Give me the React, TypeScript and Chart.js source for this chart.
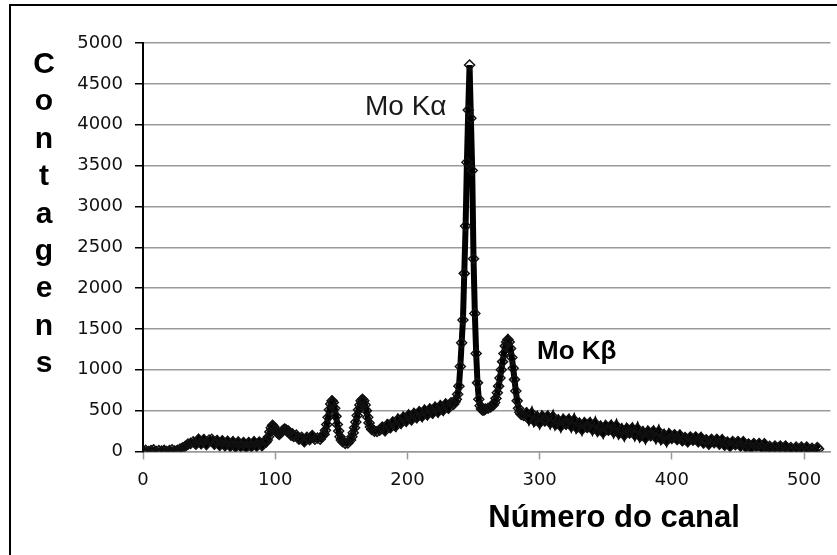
import React, { useEffect, useRef } from "react";
import { Chart, registerables } from "chart.js";

Chart.register(...registerables);

// Channel numbers (x) and counts (y)
const channels: number[] = [
  0, 2, 4, 6, 8, 10, 12, 14, 16, 18, 20, 22, 24, 26, 28, 30, 32, 34, 36, 38, 40, 42, 44, 46, 48, 50, 52, 54, 56, 58, 60, 62, 64, 66, 68, 70,
  72, 74, 76, 78, 80, 82, 84, 86, 88, 90, 92, 93,
  94, 95, 96, 97, 98, 99, 100, 101, 102, 103, 104, 105, 106, 107, 108, 109, 110, 112, 113, 114, 116, 118, 120, 122, 124, 126, 128, 130, 132, 134, 136,
  137, 138, 139, 140, 141, 142, 143, 144, 145, 146, 147, 148, 149, 150, 151, 153, 155, 157, 158, 159, 160, 161, 162, 163, 164, 165, 166, 167, 168,
  169, 170, 171, 172, 173, 175, 177, 179, 181, 183, 185, 187, 189, 191, 193, 195, 197, 199, 201, 203, 205, 207, 209, 211, 213, 215, 217, 219,
  221, 223, 225, 227, 229, 231, 233, 235, 236,
  237, 238, 239, 240, 241, 242, 243, 244, 245, 246, 247, 248, 249, 250, 251, 252, 253, 254, 255, 256, 257, 258, 259, 261, 263, 265, 266,
  267, 268, 269, 270, 271, 272, 273, 274, 275, 276, 277, 278, 279, 280, 281, 282, 283, 284, 285, 286, 288,
  290, 292, 294, 296, 298, 300, 302, 304, 306, 308, 310, 312, 314, 316, 318, 320, 322, 324, 326, 328, 330, 332, 334, 336, 338, 340,
  342, 344, 346, 348, 350, 352, 354, 356, 358, 360, 362, 364, 366, 368, 370, 372, 374, 376, 378, 380, 382, 384, 386, 388, 390,
  392, 394, 396, 398, 400, 402, 404, 406, 408, 410, 412, 414, 416, 418, 420, 422, 424, 426, 428, 430, 432, 434, 436, 438, 440,
  442, 444, 446, 448, 450, 452, 454, 456, 458, 460, 462, 464, 466, 468, 470, 472, 474, 476, 478, 480, 482, 484, 486, 488, 490,
  492, 494, 496, 498, 500, 502, 504, 506, 508, 510, 511,
];

const counts: number[] = [
  5, 15, 0, 10, 20, 0, 10, 5, 15, 0, 10, 20, 5, 15, 30, 45, 65, 90, 100, 120, 90, 150, 95, 145, 85, 140, 150, 90, 135, 75, 130, 70, 125, 65, 120, 55,
  115, 60, 110, 50, 110, 60, 120, 65, 115, 70, 125, 115,
  140, 180, 240, 290, 320, 300, 265, 240, 225, 210, 225, 245, 260, 275, 270, 250, 250, 200, 215, 185, 200, 150, 175, 120, 175, 145, 195, 150, 165, 150, 200,
  210, 260, 330, 420, 510, 580, 620, 600, 530, 430, 330, 250, 180, 140, 120, 100, 105, 140, 180, 230, 290, 360, 440, 510, 570, 620, 640, 620, 570,
  500, 420, 350, 300, 270, 250, 245, 260, 300, 255, 330, 290, 360, 310, 395, 345, 420, 370, 445, 390, 465, 415, 485, 430, 505, 450, 520, 470,
  540, 485, 560, 505, 580, 530, 595, 580, 610,
  640, 700, 800, 1040, 1330, 1610, 2180, 2760, 3540, 4180, 4730, 4080, 3440, 2360, 1690, 1200, 840, 640, 560, 520, 505, 510, 520, 530, 545, 570, 600,
  650, 720, 800, 900, 1000, 1100, 1200, 1290, 1340, 1370, 1340, 1260, 1150, 1020, 880, 740, 620, 530, 480, 455, 440,
  475, 394, 468, 372, 426, 350, 430, 375, 430, 350, 425, 330, 385, 310, 390, 335, 390, 310, 385, 290, 345, 270, 350, 295, 350, 270,
  346, 252, 308, 234, 315, 261, 317, 238, 314, 220, 276, 201, 282, 227, 283, 203, 279, 184, 240, 165, 246, 192, 248, 169, 245,
  151, 207, 133, 214, 160, 204, 147, 200, 133, 172, 119, 176, 137, 176, 119, 172, 105, 144, 91, 148, 109, 148, 91, 144, 77,
  116, 64, 121, 83, 122, 66, 119, 53, 92, 40, 97, 59, 98, 42, 95, 37, 64, 26, 66, 37, 66, 27, 66, 19, 48,
  11, 53, 25, 54, 15, 55, 10, 40, 5, 48, 30,
];

const xTickValues: number[] = [0, 100, 200, 300, 400, 500];
const yTitleLetters: string[] = ["C", "o", "n", "t", "a", "g", "e", "n", "s"];
const xTitle = "Número do canal";
const peakLabelAlpha = "Mo Kα";
const peakLabelBeta = "Mo Kβ";

const W = 837;
const H = 555;

const textPlugin = {
  id: "texts",
  afterDraw(chart: any) {
    const ctx = chart.ctx as CanvasRenderingContext2D;
    ctx.save();
    ctx.fillStyle = "#000";
    ctx.textAlign = "center";
    ctx.textBaseline = "alphabetic";
    ctx.font = "bold 30px 'Liberation Sans', Arial, sans-serif";
    yTitleLetters.forEach((ch, i) => {
      ctx.fillText(ch, 44, 73 + 37.4 * i);
    });
    ctx.font = "bold 31px 'Liberation Sans', Arial, sans-serif";
    ctx.fillText(xTitle, 614, 527);
    ctx.textAlign = "left";
    ctx.fillStyle = "#1a1a1a";
    ctx.font = "28px 'Liberation Sans', Arial, sans-serif";
    ctx.fillText(peakLabelAlpha, 365, 115);
    ctx.fillStyle = "#000";
    ctx.font = "bold 26px 'Liberation Sans', Arial, sans-serif";
    ctx.fillText(peakLabelBeta, 537, 359);
    ctx.restore();
  },
};

export default function App() {
  const ref = useRef<HTMLCanvasElement | null>(null);
  useEffect(() => {
    document.body.style.margin = "0";
    const canvas = ref.current;
    if (!canvas) return;
    const data = channels.map((c, i) => ({ x: c, y: counts[i] }));
    const chart = new Chart(canvas, {
      type: "scatter",
      data: {
        datasets: [
          {
            data,
            showLine: true,
            borderColor: "#000",
            borderWidth: 6,
            tension: 0,
            pointStyle: "rectRot",
            pointRadius: 5,
            pointBorderWidth: 1.5,
            pointBorderColor: "#111",
            pointBackgroundColor: "rgba(255,255,255,0)",
          },
        ],
      },
      options: {
        responsive: false,
        animation: false,
        devicePixelRatio: 1,
        layout: { padding: { top: 43, left: 0, right: 1, bottom: 63.5 } },
        plugins: { legend: { display: false }, tooltip: { enabled: false } },
        scales: {
          x: {
            type: "linear",
            min: 0,
            max: 520,
            afterBuildTicks: (scale: any) => {
              scale.ticks = xTickValues.map((v) => ({ value: v }));
            },
            afterFit: (scale: any) => {
              scale.height = 40;
            },
            ticks: {
              padding: 10,
              color: "#111",
              font: { family: "'DejaVu Sans', sans-serif", size: 18 },
              maxRotation: 0,
              callback: (v: any) => String(v),
            },
            grid: {
              drawOnChartArea: false,
              drawTicks: true,
              tickLength: 8,
              tickColor: "#999",
              tickWidth: 1.5,
            },
            border: { color: "#999", width: 1.5 },
          },
          y: {
            min: 0,
            max: 5000,
            afterFit: (scale: any) => {
              scale.width = 143;
            },
            ticks: {
              stepSize: 500,
              padding: 12,
              color: "#111",
              font: { family: "'DejaVu Sans', sans-serif", size: 18 },
              callback: (v: any) => String(v),
            },
            grid: {
              color: "#9a9a9a",
              lineWidth: 1.5,
              tickLength: 8,
              tickColor: "#000",
              tickWidth: 1.5,
            },
            border: { color: "#000", width: 2 },
          },
        },
      },
      plugins: [textPlugin],
    });
    return () => chart.destroy();
  }, []);
  return (
    <div style={{ position: "fixed", left: 0, top: 0, width: W, height: H, background: "#fff", overflow: "hidden" }}>
      <canvas ref={ref} width={W} height={H} style={{ width: W, height: H, display: "block" }} />
      <div
        style={{
          position: "absolute",
          left: 9,
          top: 4,
          width: W,
          height: H,
          borderLeft: "2px solid #000",
          borderTop: "2px solid #000",
          pointerEvents: "none",
        }}
      />
    </div>
  );
}
